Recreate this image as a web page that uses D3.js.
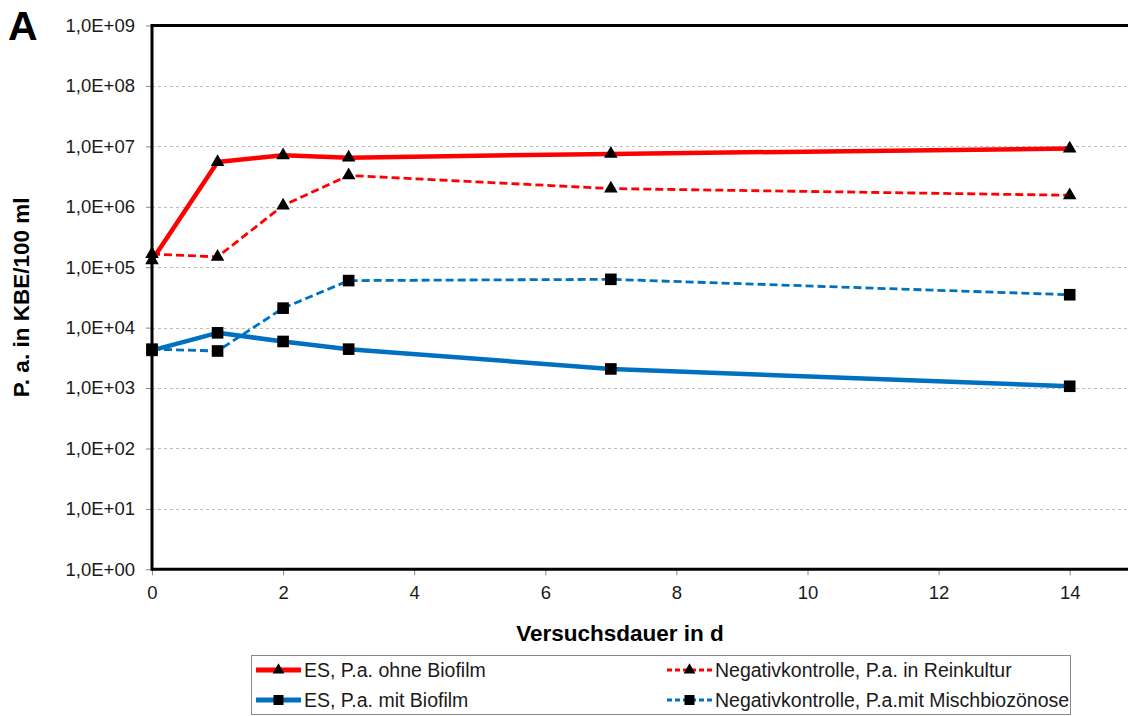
<!DOCTYPE html>
<html>
<head>
<meta charset="utf-8">
<script src="https://cdn.jsdelivr.net/npm/d3@7"></script>
<style>
    body { margin: 0; background: #fff; }
    svg { font-family: "Liberation Sans", Arial, sans-serif; }
</style>
</head>
<body>
<script>
// Keimzahlen ueber die Versuchsdauer
var days = [0, 1, 2, 3, 7, 14];
var esOhneBiofilm = [1.3e5, 5.5e6, 7.1e6, 6.5e6, 7.5e6, 9.2e6];
var negReinkultur = [1.65e5, 1.48e5, 1.05e6, 3.3e6, 2.0e6, 1.55e6];
var esMitBiofilm = [4.2e3, 8.2e3, 5.9e3, 4.4e3, 2.07e3, 1.07e3];
var negMischbiozoenose = [4.4e3, 4.1e3, 2.1e4, 6.0e4, 6.3e4, 3.5e4];
var seriesNames = [
    "ES, P.a. ohne Biofilm",
    "Negativkontrolle, P.a. in Reinkultur",
    "ES, P.a. mit Biofilm",
    "Negativkontrolle, P.a.mit Mischbiozönose"
];
var xTicks = [0, 2, 4, 6, 8, 10, 12, 14];
var yTicks = [1e0, 1e1, 1e2, 1e3, 1e4, 1e5, 1e6, 1e7, 1e8, 1e9];

(function(){

    window.onload = setChart;

    function setChart(){
        var width = 1128,
            height = 716,
            left = 152,
            top = 25.5,
            bottom = 569.3;

        var svg = d3.select("body")
            .append("svg")
            .attr("width", width)
            .attr("height", height);

        var x = d3.scaleLinear().domain([0, 16]).range([left, left + 8 * 131.1]);
        var y = d3.scaleLog().domain([1, 1e9]).range([bottom, top]);

        var series = [
            {name: seriesNames[0], values: esOhneBiofilm, color: "#ff0000", dash: null, width: 4.5, marker: d3.symbolTriangle},
            {name: seriesNames[1], values: negReinkultur, color: "#ff0000", dash: "8,4", width: 2.8, marker: d3.symbolTriangle},
            {name: seriesNames[2], values: esMitBiofilm, color: "#0070c0", dash: null, width: 4.5, marker: d3.symbolSquare},
            {name: seriesNames[3], values: negMischbiozoenose, color: "#0070c0", dash: "8,4", width: 2.8, marker: d3.symbolSquare}
        ];

        // gridlines
        svg.append("g")
            .selectAll("line")
            .data(yTicks.slice(1, -1))
            .enter()
            .append("line")
            .attr("x1", left)
            .attr("x2", width)
            .attr("y1", d => Math.round(y(d)) + 0.5)
            .attr("y2", d => Math.round(y(d)) + 0.5)
            .style("stroke", "#bdbdbd")
            .style("stroke-width", 1)
            .style("stroke-dasharray", "3,3");

        var fmt = d => "1,0E+" + String(Math.round(Math.log10(d))).padStart(2, "0");

        var yAxis = svg.append("g")
            .attr("transform", `translate(${left},0)`)
            .call(d3.axisLeft(y).tickValues(yTicks).tickFormat(fmt).tickSize(6).tickSizeOuter(0).tickPadding(11));
        yAxis.selectAll(".tick line").style("stroke", "#888");
        yAxis.selectAll(".tick text").style("font-size", "18.5px").style("fill", "#1a1a1a");
        yAxis.select(".domain").remove();

        var xAxis = svg.append("g")
            .attr("transform", `translate(0,${bottom})`)
            .call(d3.axisBottom(x).tickValues(xTicks).tickSize(6).tickSizeOuter(0).tickPadding(11));
        xAxis.selectAll(".tick line").style("stroke", "#888");
        xAxis.selectAll(".tick text").style("font-size", "18.5px").style("fill", "#1a1a1a");
        xAxis.select(".domain").remove();

        // frame lines
        svg.append("line").attr("x1", left).attr("x2", width).attr("y1", top).attr("y2", top)
            .style("stroke", "#000").style("stroke-width", 3);
        svg.append("line").attr("x1", left).attr("x2", width).attr("y1", bottom).attr("y2", bottom)
            .style("stroke", "#000").style("stroke-width", 3);
        svg.append("line").attr("x1", left).attr("x2", left).attr("y1", top - 1.5).attr("y2", bottom + 1.5)
            .style("stroke", "#000").style("stroke-width", 3);

        var line = d3.line()
            .x((d, i) => x(days[i]))
            .y(d => y(d));

        var groups = svg.selectAll(".series")
            .data(series)
            .enter()
            .append("g")
            .attr("class", "series");

        groups.append("path")
            .attr("d", d => line(d.values))
            .style("fill", "none")
            .style("stroke", d => d.color)
            .style("stroke-width", d => d.width)
            .style("stroke-linejoin", "round")
            .style("stroke-dasharray", d => d.dash);

        groups.each(function(s){
            d3.select(this).selectAll(".marker")
                .data(s.values)
                .enter()
                .append("path")
                .attr("class", "marker")
                .attr("transform", (d, i) => `translate(${x(days[i])},${y(d)})`)
                .attr("d", d3.symbol().type(s.marker).size(s.marker === d3.symbolTriangle ? 80 : 135))
                .style("fill", "#000");
        });

        // titles
        svg.append("text")
            .attr("x", 8)
            .attr("y", 40)
            .style("font-size", "41px")
            .style("font-weight", "bold")
            .text("A");

        svg.append("text")
            .attr("transform", `translate(29,${(top + bottom) / 2}) rotate(-90)`)
            .attr("text-anchor", "middle")
            .style("font-size", "22.5px")
            .style("font-weight", "bold")
            .text("P. a. in KBE/100 ml");

        svg.append("text")
            .attr("x", 620)
            .attr("y", 641)
            .attr("text-anchor", "middle")
            .style("font-size", "22.5px")
            .style("font-weight", "bold")
            .text("Versuchsdauer in d");

        drawLegend(svg, series);
    }

    function drawLegend(svg, series){
        var legend = svg.append("g");

        legend.append("rect")
            .attr("x", 251.5)
            .attr("y", 655.5)
            .attr("width", 819)
            .attr("height", 59)
            .style("fill", "#fff")
            .style("stroke", "#888")
            .style("stroke-width", 1);

        var pos = [[256, 670], [667, 670], [256, 700], [667, 700]];

        series.forEach((s, i) => {
            var px = pos[i][0], py = pos[i][1];
            legend.append("line")
                .attr("x1", px).attr("x2", px + 45)
                .attr("y1", py).attr("y2", py)
                .style("stroke", s.color)
                .style("stroke-width", s.dash ? 3 : 5)
                .style("stroke-dasharray", s.dash ? "5,3" : null);
            legend.append("path")
                .attr("transform", `translate(${px + 22.5},${py})`)
                .attr("d", d3.symbol().type(s.marker).size(s.marker === d3.symbolTriangle ? 60 : 100))
                .style("fill", "#000");
            legend.append("text")
                .attr("x", px + 48)
                .attr("y", py + 7)
                .style("font-size", "19.5px")
                .style("fill", "#1a1a1a")
                .text(s.name);
        });
    }

})();
</script>
</body>
</html>
